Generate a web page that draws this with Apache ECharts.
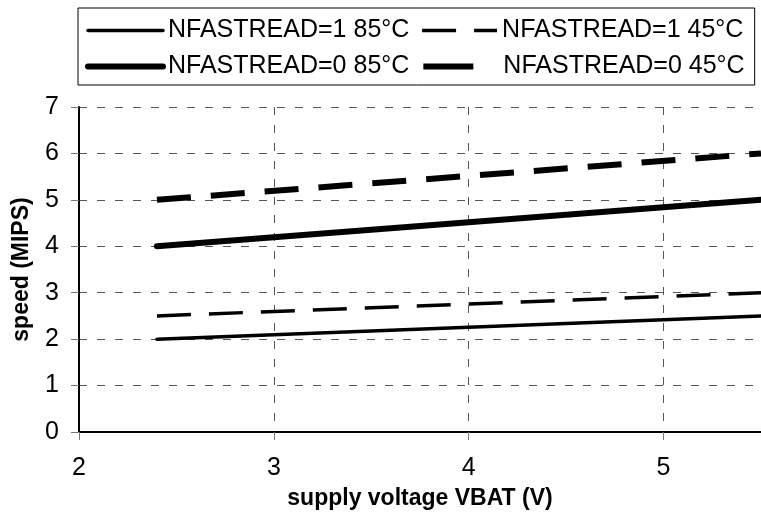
<!DOCTYPE html>
<html>
<head>
<meta charset="utf-8">
<script src="https://cdn.jsdelivr.net/npm/echarts@6/dist/echarts.min.js"></script>
<style>
  html, body { margin: 0; padding: 0; background: #fff; }
  #chart { width: 761px; height: 516px; }
</style>
</head>
<body>
<div id="chart"></div>
<script>
// supply voltage (V) at the two ends of every curve
const vbat = [2.4, 5.5]
// speed (MIPS)
const fast1at85 = [2.0, 2.5]
const fast1at45 = [2.5, 3.0]
const fast0at85 = [4.0, 5.0]
const fast0at45 = [5.0, 6.0]
const seriesNames = ['NFASTREAD=1 85°C', 'NFASTREAD=1 45°C', 'NFASTREAD=0 85°C', 'NFASTREAD=0 45°C']

const font = 'Liberation Sans, Arial, sans-serif'

// line look per curve
const styles = [
  { color: '#000', width: 3.5, type: 'solid', cap: 'round' },
  { color: '#000', width: 3.5, type: [34, 18], cap: 'butt' },
  { color: '#000', width: 6, type: 'solid', cap: 'round' },
  { color: '#000', width: 6, type: [34, 20], cap: 'butt' }
]
// legend samples are drawn a little differently in the original
const legendStyles = [
  { color: '#000', width: 3.5, type: 'solid', cap: 'round' },
  { color: '#000', width: 3.5, type: [34, 18], cap: 'butt' },
  { color: '#000', width: 6, type: 'solid', cap: 'round' },
  { color: '#000', width: 6, type: [50, 30], cap: 'butt' }
]

function pairs(ys) {
  return vbat.map((x, i) => [x, ys[i]])
}

const chart = echarts.init(document.getElementById('chart'))

chart.setOption({
  animation: false,
  backgroundColor: '#fff',
  textStyle: { fontFamily: font, color: '#000' },
  legend: {
    left: 78,
    top: 8,
    width: 690,
    padding: [10, 10, 6, 7],
    itemGap: 11,
    itemWidth: 75,
    itemHeight: 10,
    borderColor: '#000',
    borderWidth: 1,
    itemStyle: { opacity: 0 },
    textStyle: { fontFamily: font, fontSize: 25, color: '#000' },
    data: seriesNames.map((name, i) => ({ name: name, lineStyle: legendStyles[i], itemStyle: { opacity: 0 } }))
  },
  grid: { left: 79, right: -6, top: 107, bottom: 84 },
  xAxis: {
    type: 'value',
    min: 2,
    max: 5.5,
    interval: 1,
    name: 'supply voltage VBAT (V)',
    nameLocation: 'middle',
    nameGap: 55,
    nameTextStyle: { fontFamily: font, fontSize: 23, fontWeight: 'bold', color: '#000' },
    axisLine: { lineStyle: { color: '#000', width: 2 } },
    axisTick: { length: 8, lineStyle: { color: '#777', width: 1 } },
    axisLabel: { fontSize: 25, color: '#000', margin: 24, showMaxLabel: false },
    splitLine: { show: true, lineStyle: { color: '#555', width: 1, type: [8, 10] } }
  },
  yAxis: {
    type: 'value',
    min: 0,
    max: 7,
    interval: 1,
    name: 'speed (MIPS)',
    nameLocation: 'middle',
    nameGap: 46,
    nameTextStyle: { fontFamily: font, fontSize: 23, fontWeight: 'bold', color: '#000' },
    axisLine: { show: true, lineStyle: { color: '#000', width: 2 } },
    axisTick: { show: true, length: 8, lineStyle: { color: '#777', width: 1 } },
    axisLabel: { fontSize: 25, color: '#000', margin: 20 },
    splitLine: { show: true, lineStyle: { color: '#555', width: 1, type: [8, 10] } }
  },
  series: seriesNames.map((name, i) => ({
    name: name,
    type: 'line',
    symbol: 'none',
    data: pairs([fast1at85, fast1at45, fast0at85, fast0at45][i]),
    lineStyle: styles[i]
  }))
})
</script>
</body>
</html>
